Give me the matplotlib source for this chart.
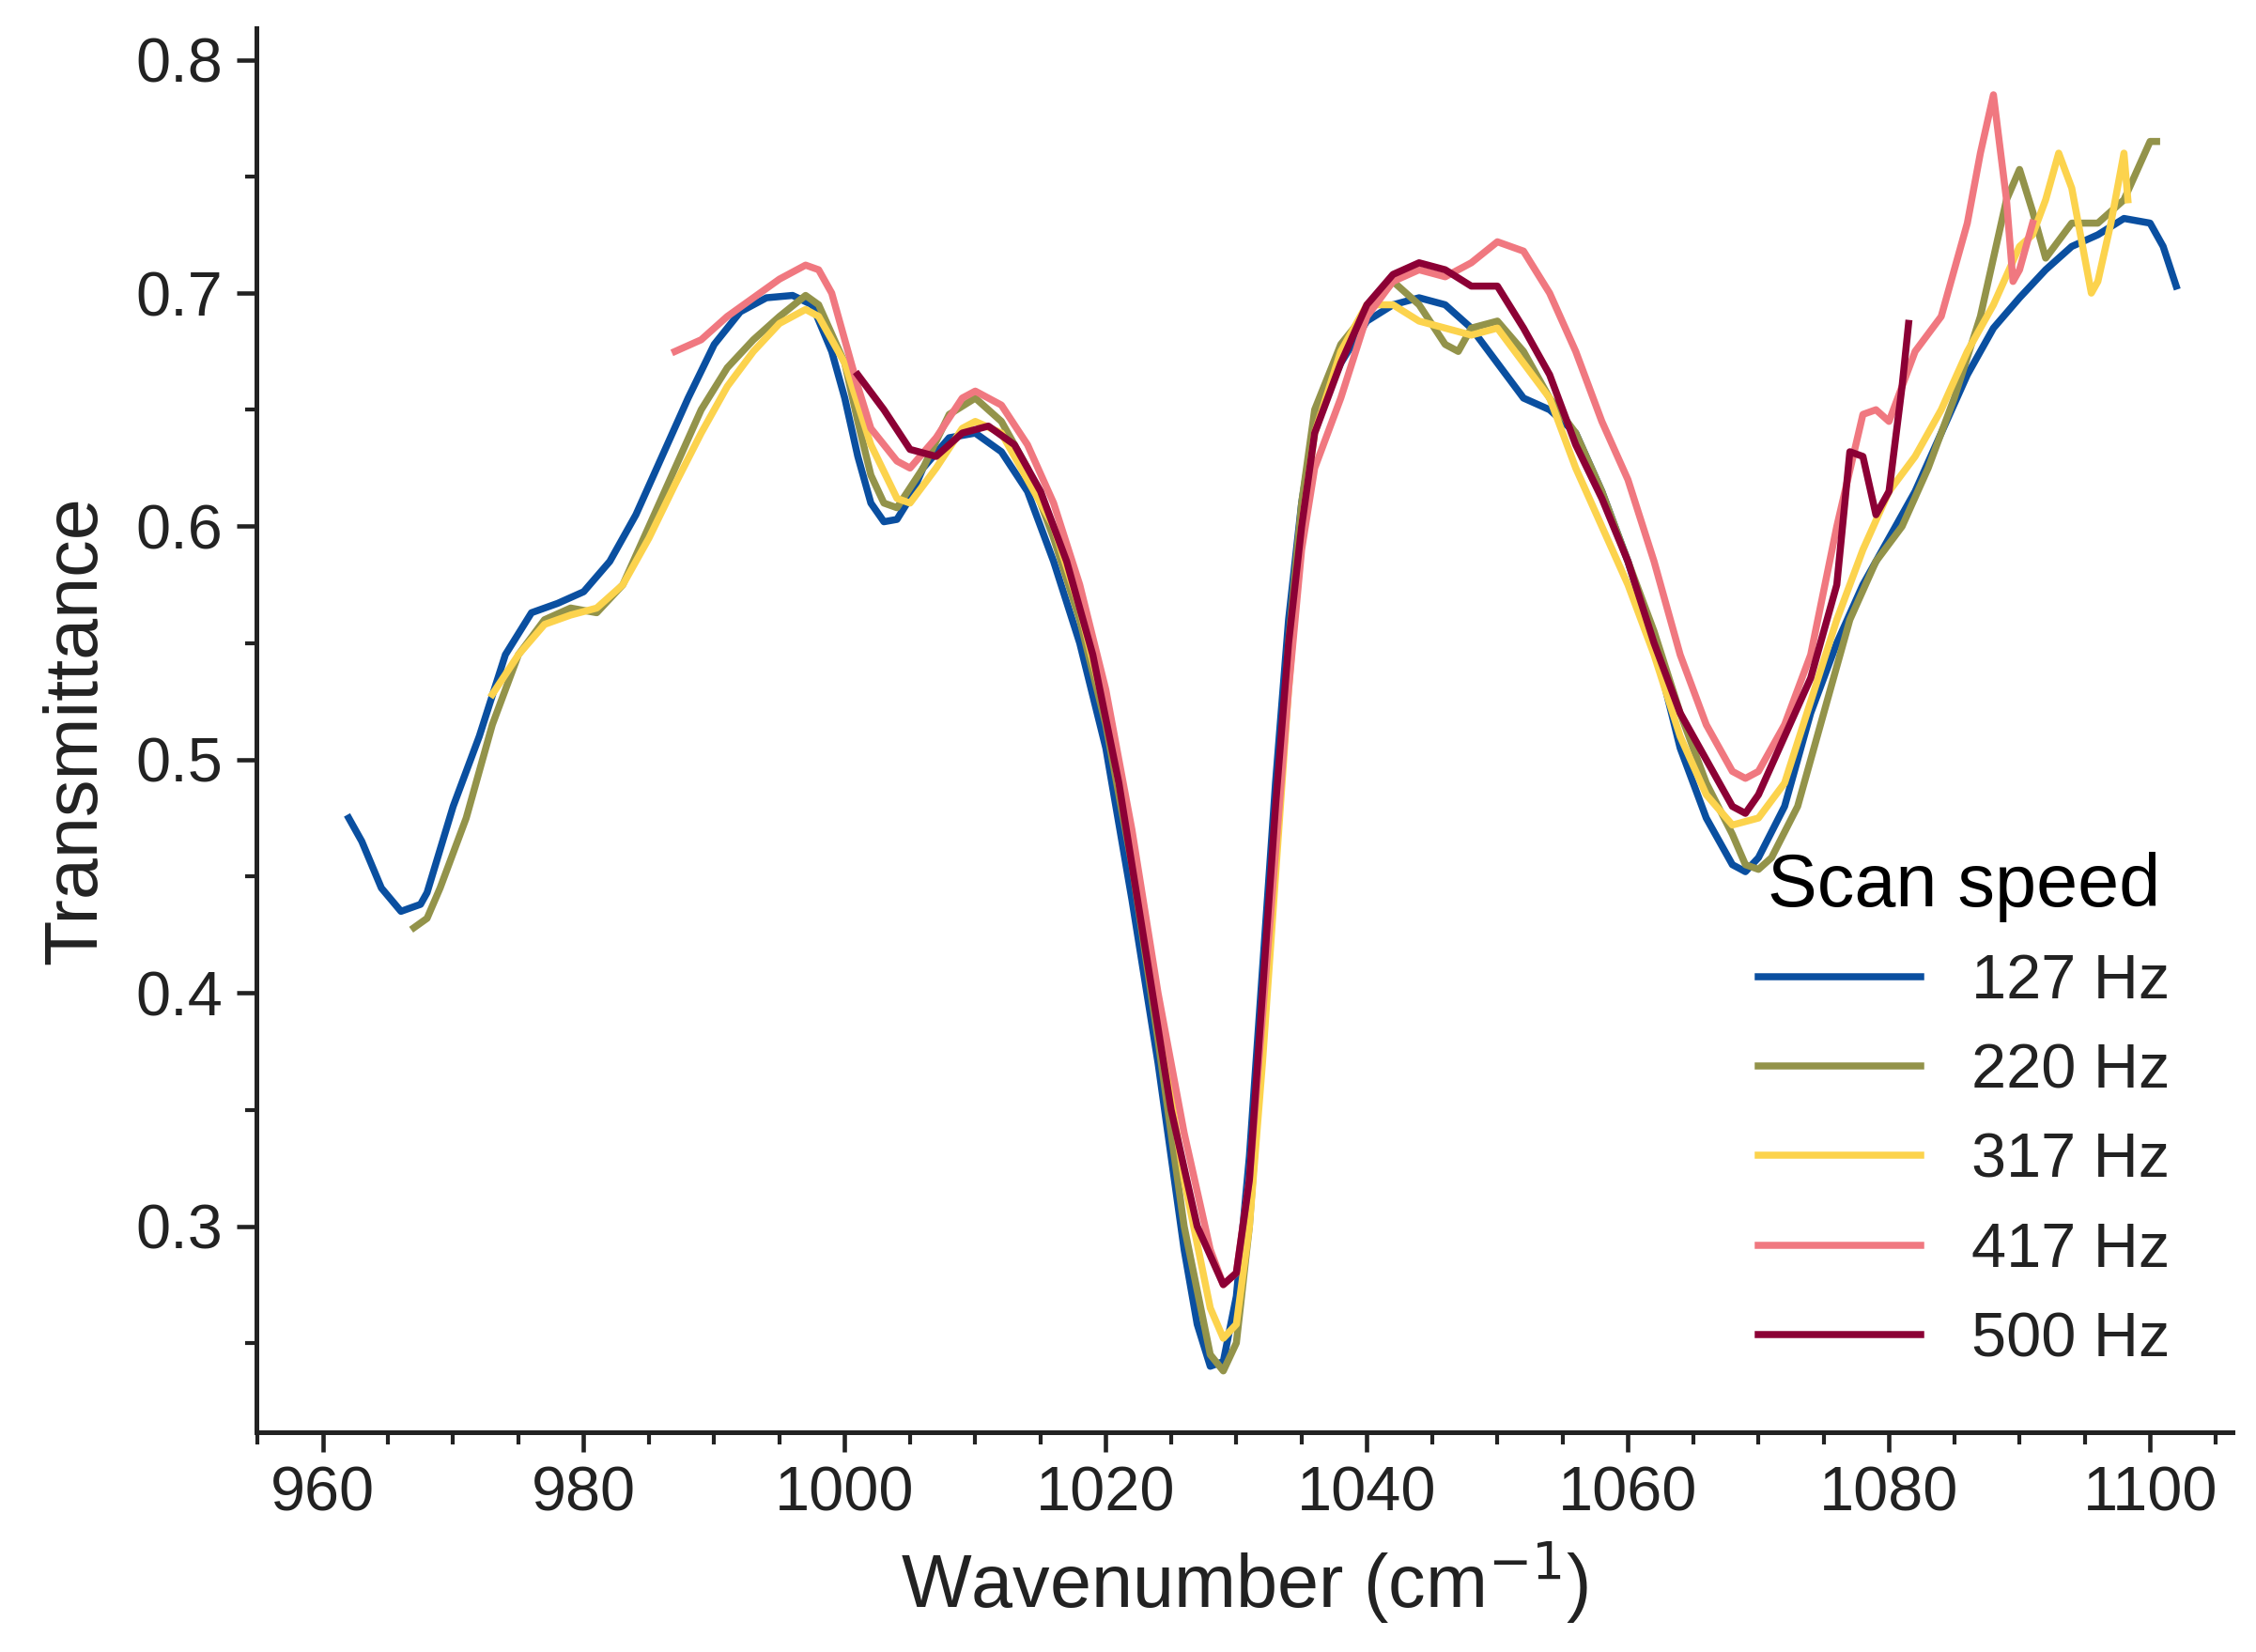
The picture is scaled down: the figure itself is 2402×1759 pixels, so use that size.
import matplotlib
matplotlib.use("Agg")
import matplotlib.pyplot as plt
from matplotlib.ticker import MultipleLocator

plt.rcParams['font.family'] = ['Liberation Sans', 'DejaVu Sans']

x127 = [962, 963, 964.5, 966, 967.5, 968, 970, 972, 974, 976, 978, 980, 982, 984, 986, 988, 990, 992, 994, 996, 997.5, 999, 1000, 1001, 1002, 1003, 1004, 1005, 1006, 1008, 1010, 1012, 1014, 1016, 1018, 1020, 1022, 1024, 1026, 1027, 1028, 1029, 1030, 1031, 1032, 1033, 1034, 1035, 1036, 1038, 1040, 1042, 1044, 1046, 1048, 1050, 1052, 1054, 1056, 1058, 1060, 1062, 1064, 1066, 1068, 1069, 1070, 1072, 1074, 1076, 1078, 1080, 1082, 1084, 1086, 1088, 1090, 1092, 1094, 1096, 1098, 1100, 1101, 1102]
y127 = [0.475, 0.465, 0.445, 0.435, 0.438, 0.443, 0.48, 0.51, 0.545, 0.563, 0.567, 0.572, 0.585, 0.605, 0.63, 0.655, 0.678, 0.692, 0.698, 0.699, 0.695, 0.675, 0.655, 0.63, 0.61, 0.602, 0.603, 0.612, 0.625, 0.638, 0.64, 0.632, 0.615, 0.585, 0.55, 0.505, 0.44, 0.37, 0.29, 0.258, 0.24, 0.242, 0.27, 0.33, 0.41, 0.49, 0.56, 0.61, 0.645, 0.67, 0.688, 0.695, 0.698, 0.695, 0.685, 0.67, 0.655, 0.65, 0.64, 0.615, 0.585, 0.55, 0.505, 0.475, 0.455, 0.452, 0.458, 0.48, 0.52, 0.55, 0.575, 0.595, 0.615, 0.64, 0.665, 0.685, 0.698, 0.71, 0.72, 0.725, 0.732, 0.73, 0.72, 0.703]

x220 = [967, 968, 969, 971, 973, 975, 977, 979, 981, 983, 985, 987, 989, 991, 993, 995, 997, 998, 1000, 1001, 1002, 1003, 1004, 1006, 1008, 1010, 1012, 1014, 1016, 1018, 1020, 1022, 1024, 1026, 1028, 1029, 1030, 1031, 1032, 1033, 1034, 1035, 1036, 1038, 1040, 1042, 1044, 1046, 1047, 1048, 1050, 1052, 1054, 1056, 1058, 1060, 1062, 1064, 1066, 1068, 1069, 1070, 1071, 1073, 1075, 1077, 1079, 1081, 1083, 1085, 1087, 1088, 1089, 1090, 1091, 1092, 1094, 1096, 1098, 1100, 1100.5]
y220 = [0.428, 0.432, 0.445, 0.475, 0.515, 0.545, 0.56, 0.565, 0.563, 0.575, 0.6, 0.625, 0.65, 0.668, 0.68, 0.69, 0.699, 0.695, 0.67, 0.645, 0.622, 0.61, 0.608, 0.625, 0.648, 0.655, 0.645, 0.625, 0.595, 0.56, 0.515, 0.455, 0.38, 0.3, 0.245, 0.238, 0.25, 0.3, 0.38, 0.46, 0.55, 0.61, 0.65, 0.678, 0.692, 0.705, 0.695, 0.678, 0.675, 0.685, 0.688, 0.675, 0.655, 0.64, 0.615, 0.585, 0.555, 0.52, 0.49, 0.468, 0.455, 0.453, 0.458, 0.48, 0.52, 0.56, 0.585, 0.6, 0.625, 0.655, 0.69, 0.715, 0.74, 0.753, 0.735, 0.715, 0.73, 0.73, 0.74, 0.765, 0.765]

x317 = [973, 975, 977, 979, 981, 983, 985, 987, 989, 991, 993, 995, 997, 998, 1000, 1002, 1004, 1005, 1007, 1009, 1010, 1012, 1014, 1016, 1018, 1020, 1022, 1024, 1026, 1028, 1029, 1030, 1031, 1032, 1033, 1034, 1035, 1036, 1038, 1040, 1042, 1044, 1046, 1048, 1050, 1052, 1054, 1056, 1058, 1060, 1062, 1064, 1066, 1068, 1070, 1072, 1074, 1076, 1078, 1080, 1082, 1084, 1086, 1088, 1090, 1091, 1092, 1093, 1094, 1095, 1095.5, 1096, 1097, 1098, 1098.3]
y317 = [0.528, 0.545, 0.558, 0.562, 0.565, 0.575, 0.595, 0.618, 0.64, 0.66, 0.675, 0.687, 0.693, 0.69, 0.67, 0.635, 0.612, 0.61, 0.625, 0.642, 0.645, 0.64, 0.62, 0.6, 0.565, 0.52, 0.46, 0.39, 0.32, 0.265, 0.252, 0.258, 0.3, 0.37, 0.45, 0.53, 0.6, 0.64, 0.675, 0.695, 0.695, 0.688, 0.685, 0.682, 0.685, 0.67, 0.655, 0.625, 0.6, 0.575, 0.545, 0.51, 0.485, 0.472, 0.475, 0.49, 0.525, 0.56, 0.59, 0.615, 0.63, 0.65, 0.675, 0.695, 0.72, 0.725, 0.74, 0.76, 0.745, 0.715, 0.7, 0.705, 0.73, 0.76, 0.74]

x417 = [987, 989, 991, 993, 995, 997, 998, 999, 1000, 1001, 1002, 1004, 1005, 1007, 1009, 1010, 1012, 1014, 1016, 1018, 1020, 1022, 1024, 1026, 1028, 1029, 1030, 1031, 1032, 1033, 1034, 1035, 1036, 1038, 1040, 1042, 1044, 1046, 1048, 1050, 1052, 1054, 1056, 1058, 1060, 1062, 1064, 1066, 1068, 1069, 1070, 1072, 1074, 1076, 1078, 1079, 1080, 1082, 1084, 1086, 1087, 1088, 1089, 1089.5, 1090, 1091]
y417 = [0.675, 0.68, 0.69, 0.698, 0.706, 0.712, 0.71, 0.7, 0.68, 0.66, 0.642, 0.628, 0.625, 0.638, 0.655, 0.658, 0.652, 0.635, 0.61, 0.575, 0.53, 0.47, 0.4, 0.34, 0.29, 0.275, 0.28, 0.32, 0.39, 0.46, 0.53, 0.59, 0.625, 0.655, 0.69, 0.705, 0.71, 0.707, 0.713, 0.722, 0.718, 0.7, 0.675, 0.645, 0.62, 0.585, 0.545, 0.515, 0.495, 0.492, 0.495, 0.515, 0.545, 0.6, 0.648, 0.65, 0.645, 0.675, 0.69, 0.73, 0.76, 0.785, 0.74, 0.705, 0.71, 0.73]

x500 = [1001, 1003, 1005, 1007, 1009, 1011, 1013, 1015, 1017, 1019, 1021, 1023, 1025, 1027, 1029, 1030, 1031, 1032, 1033, 1034, 1035, 1036, 1038, 1040, 1042, 1044, 1046, 1048, 1050, 1052, 1054, 1056, 1058, 1060, 1062, 1064, 1066, 1068, 1069, 1070, 1072, 1074, 1076, 1077, 1078, 1079, 1080, 1081, 1081.5]
y500 = [0.665, 0.65, 0.633, 0.63, 0.64, 0.643, 0.635, 0.615, 0.585, 0.545, 0.49, 0.42, 0.35, 0.3, 0.275, 0.28, 0.32, 0.4, 0.48, 0.55, 0.6, 0.64, 0.67, 0.695, 0.708, 0.713, 0.71, 0.703, 0.703, 0.685, 0.665, 0.635, 0.612, 0.585, 0.55, 0.52, 0.5, 0.48, 0.477, 0.485, 0.51, 0.535, 0.575, 0.632, 0.63, 0.605, 0.615, 0.66, 0.687]

series = [
    ("127 Hz", x127, y127, "#0a4fa0"),
    ("220 Hz", x220, y220, "#93934a"),
    ("317 Hz", x317, y317, "#fcd34d"),
    ("417 Hz", x417, y417, "#f07880"),
    ("500 Hz", x500, y500, "#8c0035"),
]

fig = plt.figure(figsize=(2402 / 300, 1759 / 300), dpi=300)
ax = fig.add_axes([0.1135, 0.133, 0.876, 0.85])

for label, xs, ys, c in series:
    ax.plot(xs, ys, color=c, lw=1.8, label=label)

ax.set_xlim(954.9, 1106.3)
ax.set_ylim(0.2117, 0.8136)
ax.xaxis.set_major_locator(MultipleLocator(20))
ax.xaxis.set_minor_locator(MultipleLocator(5))
ax.yaxis.set_major_locator(MultipleLocator(0.1))
ax.yaxis.set_minor_locator(MultipleLocator(0.05))
ax.spines['top'].set_visible(False)
ax.spines['right'].set_visible(False)
for s in ('left', 'bottom'):
    ax.spines[s].set_linewidth(1.2)
    ax.spines[s].set_color('#222222')
ax.tick_params(which='major', length=5, width=1.1, labelsize=16, colors='#222222')
ax.tick_params(which='minor', length=3, width=1.0, colors='#222222')
ax.set_xlabel("Wavenumber (cm$^{-1}$)", fontsize=19, color='#222222', labelpad=4)
ax.set_ylabel("Transmittance", fontsize=19, color='#222222', labelpad=6)

leg = ax.legend(title="Scan speed", loc='lower right', frameon=False,
                fontsize=16, title_fontsize=19, handlelength=2.6,
                labelspacing=0.5, borderaxespad=0.6)
for t in leg.get_texts():
    t.set_color('#222222')

fig.savefig("out.png", dpi=300)
